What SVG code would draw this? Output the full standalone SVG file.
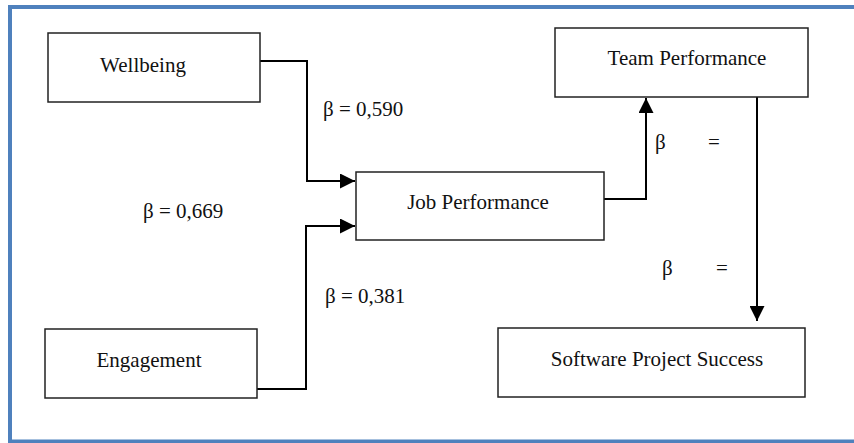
<svg xmlns="http://www.w3.org/2000/svg" width="854" height="443" viewBox="0 0 854 443">
<style>
.box{fill:#fff;stroke:#222;stroke-width:1.5}
.t{font-family:"Liberation Serif","Times New Roman",serif;font-size:21px;fill:#111}
.c{text-anchor:middle}
.ln{fill:none;stroke:#000;stroke-width:2}
</style>
<defs>
<marker id="ah" viewBox="0 0 15 15" refX="15" refY="7.5" markerWidth="15" markerHeight="15" markerUnits="userSpaceOnUse" orient="auto">
<path d="M0,0 L15,7.5 L0,15 Z" fill="#000"/>
</marker>
</defs>
<rect x="0" y="0" width="854" height="443" fill="#fff"/>
<path d="M10,443 L10,7 L860,7 M10,441.5 L860,441.5" fill="none" stroke="#4f81bd" stroke-width="4"/>
<g id="connectors">
<path class="ln" d="M260,61 H307 V181 H355" marker-end="url(#ah)"/>
<path class="ln" d="M257,389 H306 V226 H355" marker-end="url(#ah)"/>
<path class="ln" d="M604,199 H646 V98" marker-end="url(#ah)"/>
<path class="ln" d="M757,97 V321" marker-end="url(#ah)"/>
</g>
<g id="labels">
<text class="t" x="323" y="116">β = 0,590</text>
<text class="t" x="143" y="218">β = 0,669</text>
<text class="t" x="325" y="303">β = 0,381</text>
<text class="t" x="655" y="149">β</text>
<text class="t" x="708" y="149">=</text>
<text class="t" x="662" y="275">β</text>
<text class="t" x="716" y="275">=</text>
</g>
<g id="wellbeing">
<rect class="box" x="48" y="33" width="212" height="69"/>
<text class="t c" x="143" y="72">Wellbeing</text>
</g>
<g id="engagement">
<rect class="box" x="45" y="329" width="212" height="69"/>
<text class="t c" x="149" y="367">Engagement</text>
</g>
<g id="job-performance">
<rect class="box" x="356" y="172" width="248" height="68"/>
<text class="t c" x="478" y="209">Job Performance</text>
</g>
<g id="team-performance">
<rect class="box" x="555" y="28" width="253" height="69"/>
<text class="t c" x="687" y="65">Team Performance</text>
</g>
<g id="software-project-success">
<rect class="box" x="498" y="328" width="307" height="69"/>
<text class="t c" x="657" y="366">Software Project Success</text>
</g>
</svg>
